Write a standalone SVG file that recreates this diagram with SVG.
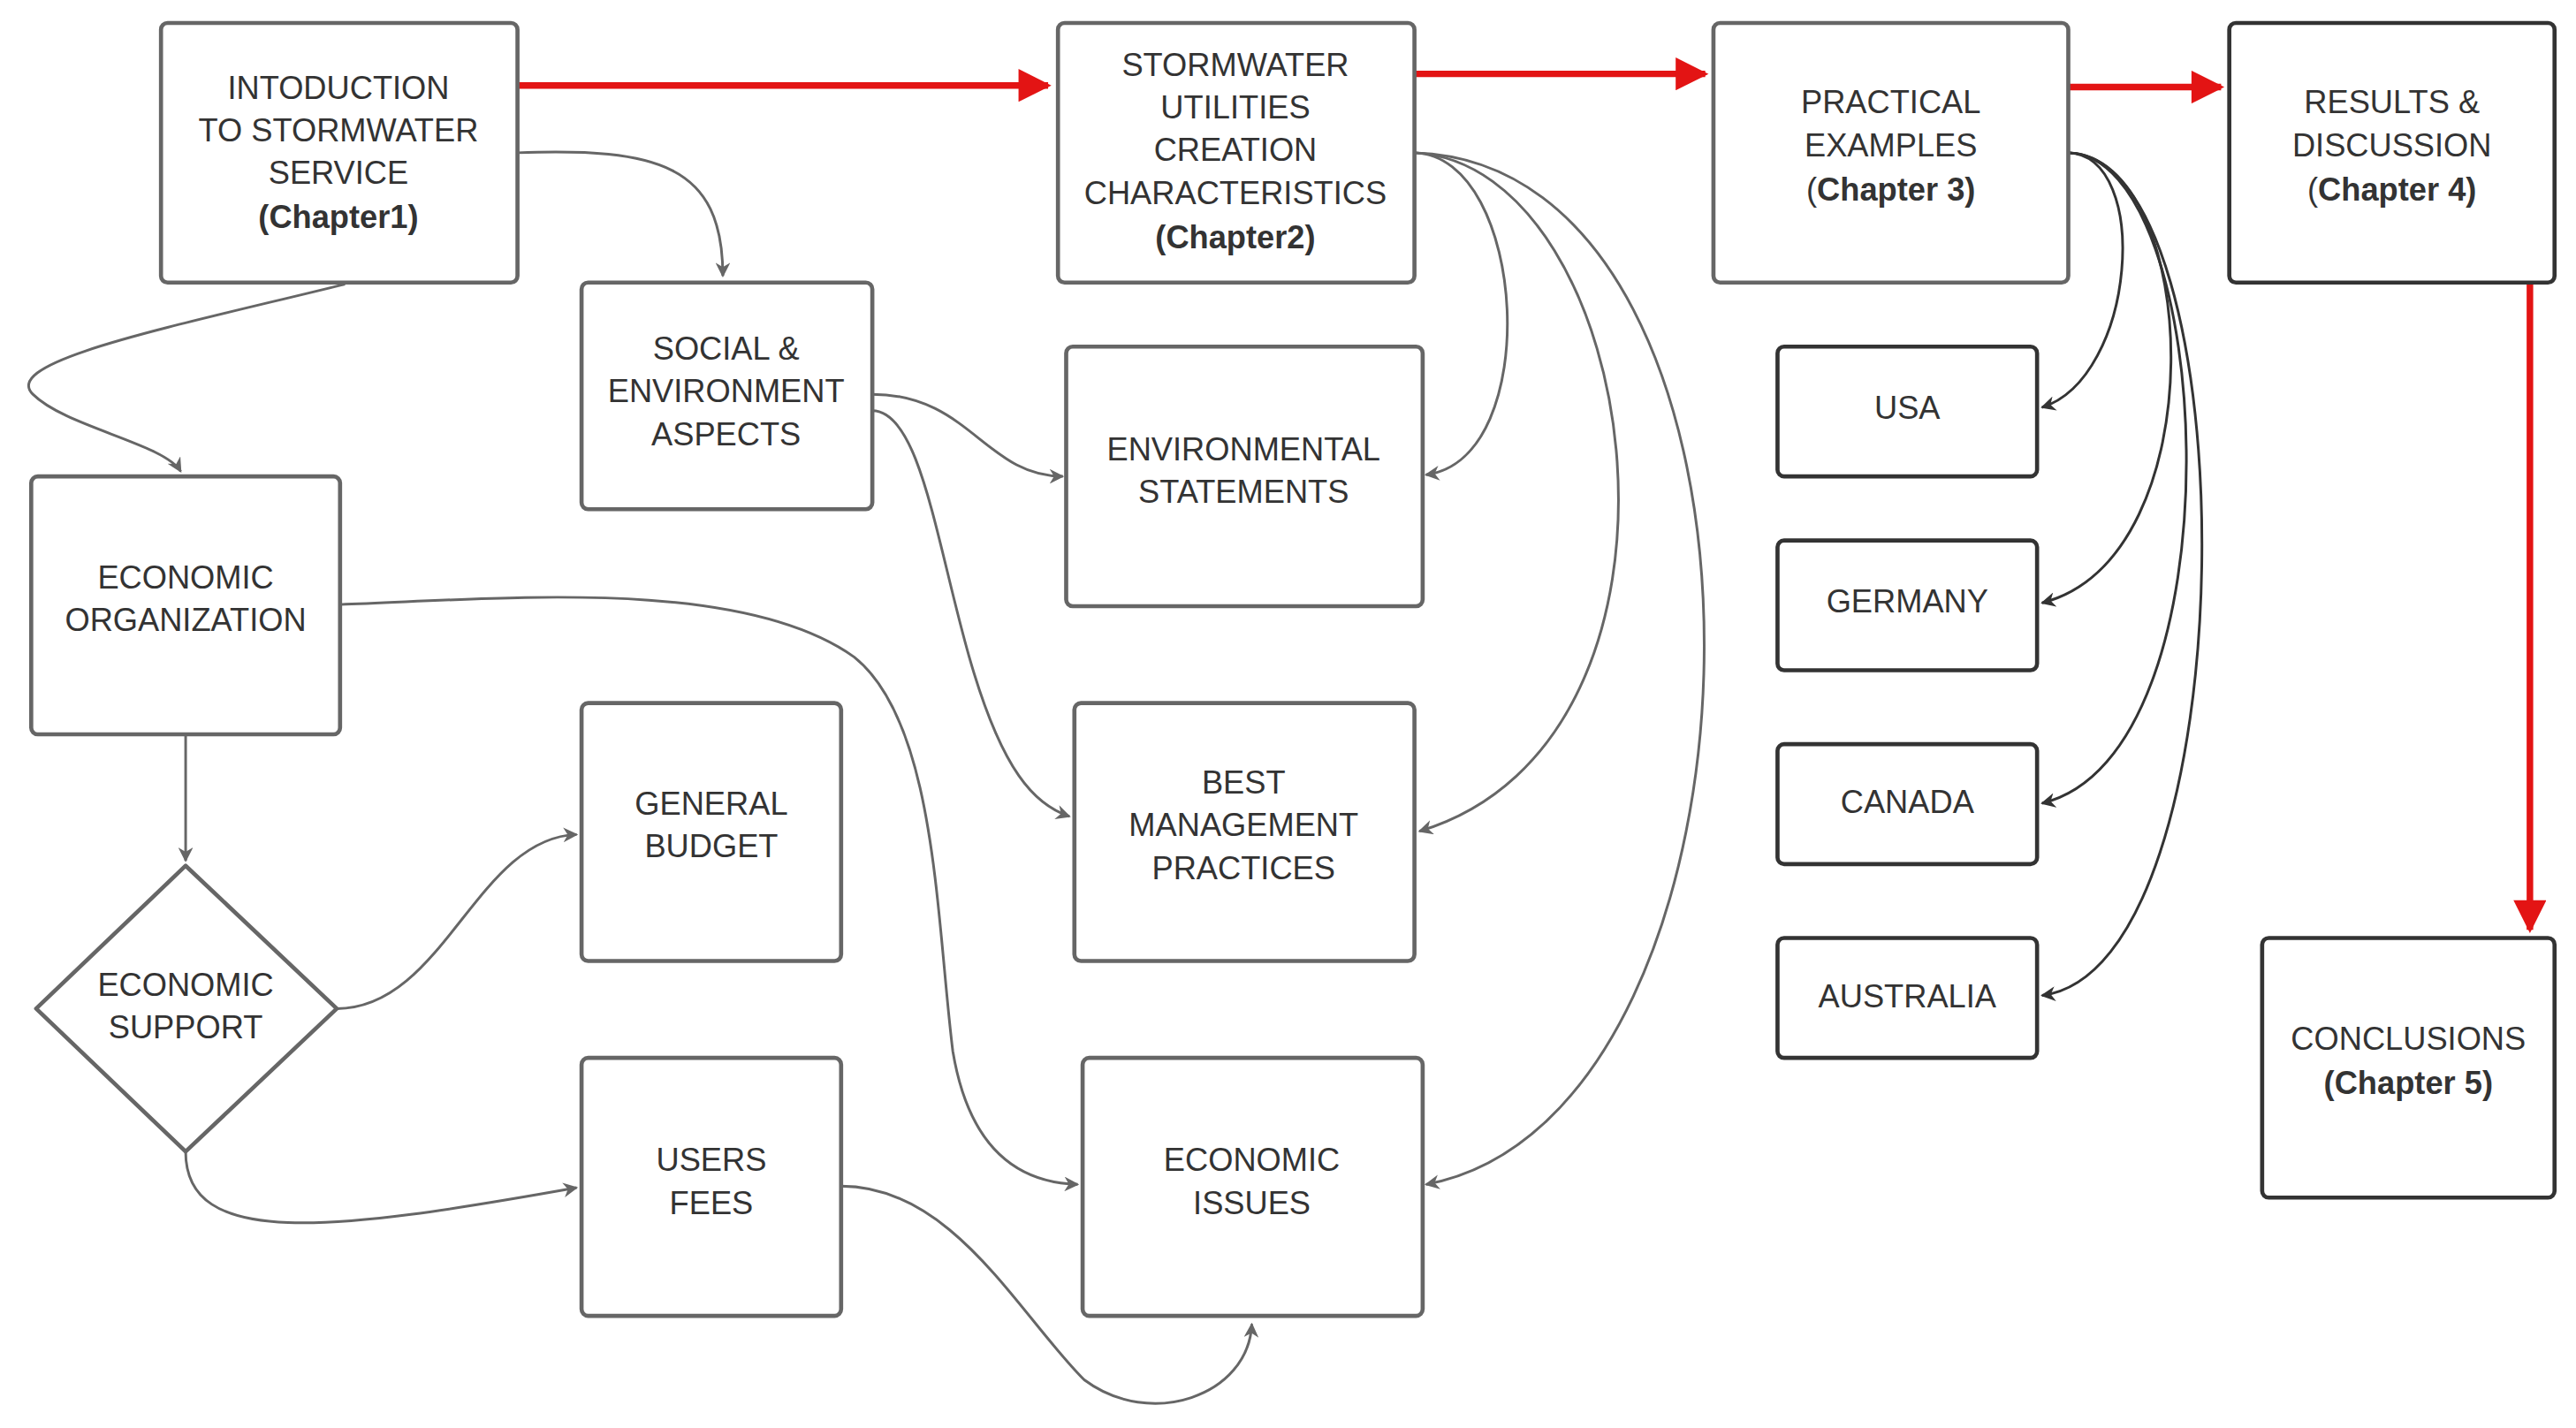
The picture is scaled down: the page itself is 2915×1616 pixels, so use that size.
<svg xmlns="http://www.w3.org/2000/svg" width="2915" height="1616" viewBox="0 0 2915 1616">
<style>
.b{fill:#fff;stroke:#666;stroke-width:2.5}
.d{fill:#fff;stroke:#333;stroke-width:2.5}
text{font-family:"Liberation Sans",Arial,sans-serif;font-size:19.5px;fill:#333;text-anchor:middle}
.bo{font-weight:bold}
.g{fill:none;stroke:#666;stroke-width:1.6}
.k{fill:none;stroke:#333;stroke-width:1.6}
.r{fill:none;stroke:#e31414;stroke-width:4}
</style>
<defs>
<marker id="ag" viewBox="0 0 10 10" refX="9" refY="5" markerWidth="9" markerHeight="9" orient="auto" markerUnits="userSpaceOnUse"><path d="M0,0L10,5L0,10L3,5z" fill="#666"/></marker>
<marker id="ak" viewBox="0 0 10 10" refX="9" refY="5" markerWidth="9" markerHeight="9" orient="auto" markerUnits="userSpaceOnUse"><path d="M0,0L10,5L0,10L3,5z" fill="#333"/></marker>
<marker id="ar" viewBox="0 0 10 10" refX="9" refY="5" markerWidth="6" markerHeight="5" orient="auto"><path d="M0,0L10,5L0,10z" fill="#e31414"/></marker>
</defs>
<rect width="2915" height="1616" fill="#fff"/>
<g transform="scale(1.859)">
<g id="connectors">
<path class="r" d="M315,52H638" marker-end="url(#ar)"/>
<path class="r" d="M861,45H1038" marker-end="url(#ar)"/>
<path class="r" d="M1259,53H1352" marker-end="url(#ar)"/>
<path class="r" d="M1540,172V566" marker-end="url(#ar)"/>
<path class="g" d="M315,93C400,90 440,100 440,168" marker-end="url(#ag)"/>
<path class="g" d="M210,173C100,200 0,220 20,240C40,260 100,270 110,287" marker-end="url(#ag)"/>
<path class="g" d="M531,240C590,240 600,290 647,290" marker-end="url(#ag)"/>
<path class="g" d="M531,250C560,250 570,330 590,400C610,470 630,490 651,497" marker-end="url(#ag)"/>
<path class="g" d="M207,368C300,365 450,350 520,400C570,440 570,560 580,640C590,700 620,720 656,721" marker-end="url(#ag)"/>
<path class="g" d="M113,447V524" marker-end="url(#ag)"/>
<path class="g" d="M205,614C270,614 290,510 351,508" marker-end="url(#ag)"/>
<path class="g" d="M113,701C113,760 200,750 351,723" marker-end="url(#ag)"/>
<path class="g" d="M512,722C580,722 620,800 660,840C700,870 760,850 762,806" marker-end="url(#ag)"/>
<path class="g" d="M861,93C930,95 940,280 868,289" marker-end="url(#ag)"/>
<path class="g" d="M861,93C1000,100 1050,450 864,506" marker-end="url(#ag)"/>
<path class="g" d="M861,93C1100,100 1090,680 868,721" marker-end="url(#ag)"/>
<path class="k" d="M1259,93C1310,95 1300,230 1243,248" marker-end="url(#ak)"/>
<path class="k" d="M1259,93C1340,95 1350,340 1243,367" marker-end="url(#ak)"/>
<path class="k" d="M1259,93C1350,95 1365,460 1243,489" marker-end="url(#ak)"/>
<path class="k" d="M1259,93C1370,95 1370,590 1243,606" marker-end="url(#ak)"/>
</g>
<g id="intro"><rect class="b" x="98" y="14" width="217" height="158" rx="4"/><text x="206" y="60">INTODUCTION</text><text x="206" y="86">TO STORMWATER</text><text x="206" y="112">SERVICE</text><text x="206" y="139" class="bo">(Chapter1)</text></g>
<g id="storm"><rect class="b" x="644" y="14" width="217" height="158" rx="4"/><text x="752" y="46">STORMWATER</text><text x="752" y="72">UTILITIES</text><text x="752" y="98">CREATION</text><text x="752" y="124">CHARACTERISTICS</text><text x="752" y="151" class="bo">(Chapter2)</text></g>
<g id="practical"><rect class="b" x="1043" y="14" width="216" height="158" rx="4"/><text x="1151" y="69">PRACTICAL</text><text x="1151" y="95">EXAMPLES</text><text x="1151" y="122">(<tspan class="bo">Chapter 3)</tspan></text></g>
<g id="results"><rect class="d" x="1357" y="14" width="198" height="158" rx="4"/><text x="1456" y="69">RESULTS &amp;</text><text x="1456" y="95">DISCUSSION</text><text x="1456" y="122">(<tspan class="bo">Chapter 4)</tspan></text></g>
<g id="social"><rect class="b" x="354" y="172" width="177" height="138" rx="4"/><text x="442" y="219">SOCIAL &amp;</text><text x="442" y="245">ENVIRONMENT</text><text x="442" y="271">ASPECTS</text></g>
<g id="envstat"><rect class="b" x="649" y="211" width="217" height="158" rx="4"/><text x="757" y="280">ENVIRONMENTAL</text><text x="757" y="306">STATEMENTS</text></g>
<g id="econorg"><rect class="b" x="19" y="290" width="188" height="157" rx="4"/><text x="113" y="358">ECONOMIC</text><text x="113" y="384">ORGANIZATION</text></g>
<g id="budget"><rect class="b" x="354" y="428" width="158" height="157" rx="4"/><text x="433" y="496">GENERAL</text><text x="433" y="522">BUDGET</text></g>
<g id="bmp"><rect class="b" x="654" y="428" width="207" height="157" rx="4"/><text x="757" y="483">BEST</text><text x="757" y="509">MANAGEMENT</text><text x="757" y="535">PRACTICES</text></g>
<g id="support"><path class="b" d="M113,527L205,614L113,701L22,614z" stroke-linejoin="round"/><text x="113" y="606">ECONOMIC</text><text x="113" y="632">SUPPORT</text></g>
<g id="fees"><rect class="b" x="354" y="644" width="158" height="157" rx="4"/><text x="433" y="713">USERS</text><text x="433" y="739">FEES</text></g>
<g id="issues"><rect class="b" x="659" y="644" width="207" height="157" rx="4"/><text x="762" y="713">ECONOMIC</text><text x="762" y="739">ISSUES</text></g>
<g id="usa"><rect class="d" x="1082" y="211" width="158" height="79" rx="4"/><text x="1161" y="255">USA</text></g>
<g id="germany"><rect class="d" x="1082" y="329" width="158" height="79" rx="4"/><text x="1161" y="373">GERMANY</text></g>
<g id="canada"><rect class="d" x="1082" y="453" width="158" height="73" rx="4"/><text x="1161" y="495">CANADA</text></g>
<g id="australia"><rect class="d" x="1082" y="571" width="158" height="73" rx="4"/><text x="1161" y="613">AUSTRALIA</text></g>
<g id="conclusions"><rect class="d" x="1377" y="571" width="178" height="158" rx="4"/><text x="1466" y="639">CONCLUSIONS</text><text x="1466" y="666" class="bo">(Chapter 5)</text></g>
</g>
</svg>
